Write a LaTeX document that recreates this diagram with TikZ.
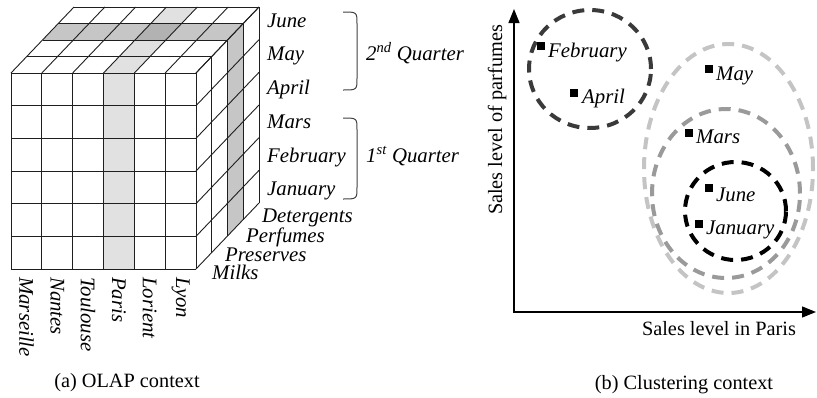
\documentclass[tikz,border=0pt]{standalone}
\usepackage{fontspec}
\setmainfont{Liberation Serif}
\usetikzlibrary{arrows.meta}
\definecolor{parisgray}{HTML}{E1E1E1}
\definecolor{perfgray}{HTML}{C6C6C6}
\definecolor{bothgray}{HTML}{B2B2B2}
\definecolor{ringdark}{HTML}{3A3A3A}
\definecolor{ringlight}{HTML}{C4C4C4}
\definecolor{ringmid}{HTML}{9A9A9A}
\begin{document}
\begin{tikzpicture}[x=1pt,y=-1pt,
  grid/.style={draw=black!88, line width=0.9pt},
  lab/.style={font=\fontsize{20.8}{24}\selectfont\itshape, inner sep=0pt},
  captext/.style={font=\fontsize{20.3}{24}\selectfont, inner sep=0pt},
  ring/.style={dash pattern=on 12pt off 8pt, line width=4pt},
  dot/.style={fill=black, minimum size=8pt, inner sep=0pt, outer sep=0pt},
  brace/.style={draw=black!75, line width=1pt},
  axis/.style={line width=1.3pt, {Triangle[length=14pt,width=11pt]}-{Triangle[length=14pt,width=11pt]}}
]
\useasboundingbox (0,0) rectangle (817,397);
\def\cw{30.8333}\def\rh{32.6667}
% ---- highlighted slices ----
\fill[parisgray] (103.5,73) rectangle (134.333,269);
\fill[parisgray] (103.5,73) -- (134.333,73) -- (197.333,7) -- (166.5,7) -- cycle;
\fill[perfgray] (42.5,40) -- (227.5,40) -- (243.25,23.5) -- (58.25,23.5) -- cycle;
\fill[perfgray] (227.5,40) -- (243.25,23.5) -- (243.25,219.5) -- (227.5,236) -- cycle;
\fill[bothgray] (135,40) -- (165.833,40) -- (181.583,23.5) -- (150.75,23.5) -- cycle;
% ---- cube grid ----
\foreach \i in {0,...,6} {
  \draw[grid] (11+\i*\cw,73) -- (11+\i*\cw,269);
  \draw[grid] (11+\i*\cw,73) -- ++(63,-66);
}
\foreach \j in {0,...,6} {
  \draw[grid] (11,73+\j*\rh) -- (196,73+\j*\rh);
  \draw[grid] (196,73+\j*\rh) -- ++(63,-66);
}
\foreach \k in {1,...,4} {
  \draw[grid] (11+\k*15.75,73-\k*16.5) -- ++(185,0);
  \draw[grid] (196+\k*15.75,73-\k*16.5) -- ++(0,196);
}
% ---- month labels ----
\node[lab, anchor=base west] (jun) at (267,27) {June};
\node[lab, anchor=base west] (may) at (267,60) {May};
\node[lab, anchor=base west] (apr) at (267,94) {April};
\node[lab, anchor=base west] (mar) at (267,128) {Mars};
\node[lab, anchor=base west] (feb) at (267,162) {February};
\node[lab, anchor=base west] (jan) at (267,195) {January};
% ---- quarter braces ----
\coordinate (q2t) at (343,12);
\coordinate (q2b) at (343,90);
\coordinate (q1t) at (343,118);
\coordinate (q1b) at (343,199);
\draw[brace] (q2t) .. controls (357,12) .. (357,24) -- (357,78) .. controls (357,90) .. (q2b);
\draw[brace] (q1t) .. controls (357,118) .. (357,130) -- (357,187) .. controls (357,199) .. (q1b);
\node[lab, anchor=base west] (q2) at (366,60) {2\textsuperscript{nd} Quarter};
\node[lab, anchor=base west] (q1) at (366,162) {1\textsuperscript{st} Quarter};
% ---- product labels ----
\node[lab, anchor=base west] (det) at (262,222) {Detergents};
\node[lab, anchor=base west] (per) at (246,242) {Perfumes};
\node[lab, anchor=base west] (pre) at (225,261) {Preserves};
\node[lab, anchor=base west] (mil) at (212,279) {Milks};
% ---- city labels ----
\foreach \c [count=\i from 0] in {Marseille,Nantes,Toulouse,Paris,Lorient,Lyon}
  \node[lab, rotate=-90, anchor=west] (city\i) at (11+\cw/2+\i*\cw,277) {\c};
% ---- captions ----
\node[captext, anchor=base] (capa) at (127,387) {(a) OLAP context};
\node[captext, anchor=base] (capb) at (684,389) {(b) Clustering context};
% ---- clustering chart ----
\coordinate (ytip) at (514,9);
\coordinate (orig) at (514,312);
\coordinate (xtip) at (816,312);
\draw[axis] (ytip) -- (orig) -- (xtip);
\node[captext, rotate=90, anchor=base] (ylab) at (502,120) {Sales level of parfumes};
\node[captext, anchor=base] (xlab) at (719,335) {Sales level in Paris};
\draw[ring, draw=ringlight] (728.5,168.5) ellipse [x radius=84.5pt, y radius=124.5pt];
\draw[ring, draw=ringmid] (726,193.5) ellipse [x radius=74pt, y radius=84.5pt];
\draw[ring, draw=black] (735.5,211) ellipse [x radius=50.5pt, y radius=49pt];
\draw[ring, draw=ringdark] (590,69) ellipse [x radius=61pt, y radius=59pt];
\node[dot] (pfeb) at (541,46) {};
\node[lab, anchor=base west] (tfeb) at (548,57) {February};
\node[dot] (papr) at (574,93) {};
\node[lab, anchor=base west] (tapr) at (582,103) {April};
\node[dot] (pmay) at (709,69) {};
\node[lab, anchor=base west] (tmay) at (716,80) {May};
\node[dot] (pmar) at (689,133) {};
\node[lab, anchor=base west] (tmar) at (696,143) {Mars};
\node[dot] (pjun) at (709,188) {};
\node[lab, anchor=base west] (tjun) at (716,201) {June};
\node[dot] (pjan) at (699,224) {};
\node[lab, anchor=base west] (tjan) at (706,234) {January};
\end{tikzpicture}
\end{document}
